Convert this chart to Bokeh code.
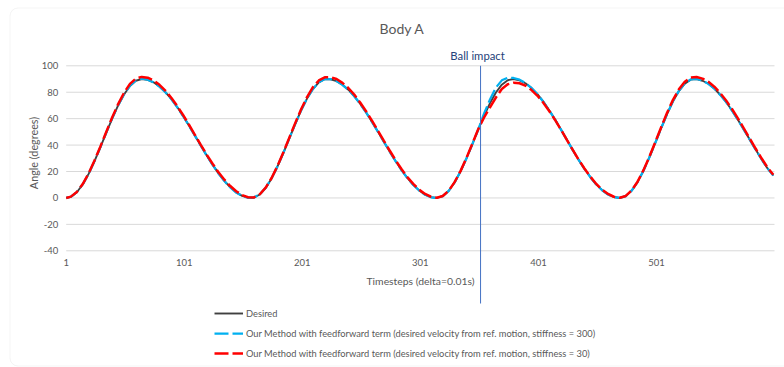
from math import pi
from bokeh.plotting import figure
from bokeh.models import Label, Legend, LegendItem, FixedTicker, Range1d, ColumnDataSource, BoxAnnotation
from bokeh.embed import file_html
from bokeh.resources import INLINE

# ---------------- data ----------------
steps = [1] + [5 * k for k in range(1, 121)]

desired = [
    0.0, 0.9, 4.3, 10.2, 18.2, 27.8, 38.4, 49.4, 60.2, 70.0, 78.3, 84.7, 88.7,
    90.0, 89.4, 87.5, 84.3, 80.1, 74.9, 68.8, 62.1, 54.8, 47.3, 39.7, 32.2, 25.2,
    18.6, 12.9, 8.0, 4.2, 1.6, 0.2,
    0.2, 2.6, 7.6, 14.8, 23.8, 34.1, 45.0, 55.9, 66.2, 75.2, 82.4, 87.4, 89.8,
    89.8, 88.4, 85.7, 81.9, 77.1, 71.3, 64.8, 57.7, 50.3, 42.7, 35.2, 27.9, 21.2,
    15.1, 9.9, 5.7, 2.5, 0.6, 0.0,
    1.4, 5.3, 11.7, 20.0, 29.8, 40.6, 51.6, 62.2, 71.8, 79.8, 85.7, 89.1,
    90.0, 89.0, 86.8, 83.3, 78.7, 73.1, 66.6, 59.5, 52.0, 44.2, 36.5, 29.0, 22.1,
    15.8, 10.3, 5.9, 2.7, 0.7, 0.0,
    1.4, 5.5, 12.0, 20.6, 30.7, 41.6, 52.8, 63.5, 73.1, 80.9, 86.5, 89.5,
    89.9, 88.7, 86.4, 82.8, 78.1, 72.6, 66.2, 59.2, 51.8, 44.2, 36.7, 29.4, 22.5,
    17.0,
]

stiff300 = [
    0.0, 0.9, 4.4, 10.3, 18.3, 27.9, 38.5, 49.5, 60.3, 70.2, 78.5, 84.9, 88.9,
    90.2, 89.5, 87.5, 84.2, 80.0, 74.8, 68.7, 62.0, 54.7, 47.2, 39.6, 32.1, 25.1,
    18.5, 12.8, 7.9, 4.1, 1.5, 0.2,
    0.3, 2.7, 7.7, 14.9, 23.9, 34.2, 45.1, 56.0, 66.3, 75.3, 82.5, 87.6, 90.0,
    89.9, 88.4, 85.6, 81.8, 77.0, 71.2, 64.7, 57.6, 50.2, 42.6, 35.1, 27.8, 21.1,
    15.0, 9.8, 5.6, 2.4, 0.5, 0.0,
    1.4, 5.3, 11.7, 20.0, 29.8, 40.6, 51.6, 64.0, 74.5, 83.5, 89.0, 91.0,
    90.8, 89.5, 87.0, 83.3, 78.6, 73.0, 66.5, 59.4, 51.9, 44.1, 36.4, 28.9, 22.0,
    15.7, 10.2, 5.8, 2.6, 0.6, 0.0,
    1.4, 5.5, 12.0, 20.6, 30.7, 41.6, 52.8, 63.5, 73.2, 81.0, 86.7, 89.7,
    90.1, 88.8, 86.4, 82.8, 78.0, 72.5, 66.1, 59.1, 51.7, 44.1, 36.6, 29.3, 22.4,
    16.9,
]

stiff30 = [
    0.0, 1.0, 4.5, 10.5, 18.6, 28.3, 39.0, 50.1, 61.0, 71.0, 79.6, 86.3, 90.3,
    91.6, 91.0, 89.0, 85.6, 81.2, 75.8, 69.6, 62.8, 55.4, 47.8, 40.2, 32.8, 25.9,
    19.4, 13.8, 9.0, 5.1, 2.2, 0.5,
    0.4, 2.8, 7.8, 15.1, 24.2, 34.6, 45.6, 56.6, 67.1, 76.3, 83.8, 88.9, 91.3,
    91.4, 90.0, 87.1, 83.2, 78.2, 72.2, 65.6, 58.5, 51.0, 43.4, 35.9, 28.6, 21.9,
    15.8, 10.6, 6.3, 3.0, 0.9, 0.1,
    1.5, 5.5, 12.0, 20.3, 30.2, 41.0, 52.0, 61.0, 68.5, 76.0, 82.5, 86.0,
    87.2, 86.8, 85.0, 81.8, 77.5, 72.3, 66.0, 59.2, 51.8, 44.1, 36.5, 29.1, 22.3,
    16.1, 10.6, 6.2, 3.0, 0.9, 0.1,
    1.5, 5.7, 12.3, 21.0, 31.2, 42.2, 53.5, 64.4, 74.2, 82.2, 88.0, 91.1,
    91.5, 90.3, 87.9, 84.2, 79.4, 73.8, 67.3, 60.2, 52.7, 45.0, 37.4, 30.0, 23.1,
    17.6,
]

x_ticks = [1, 101, 201, 301, 401, 501]
y_ticks = [-40, -20, 0, 20, 40, 60, 80, 100]
x_bounds = (1, 601)
impact_step = 352

title_text = "Body A"
y_title = "Angle (degrees)"
x_title = "Timesteps (delta=0.01s)"
impact_text = "Ball impact"
series_names = [
    "Desired",
    "Our Method with feedforward term (desired velocity from ref. motion, stiffness = 300)",
    "Our Method with feedforward term (desired velocity from ref. motion, stiffness = 30)",
]

# ---------------- layout (frame = whole canvas) ----------------
W, H = 784, 367
PX_X = 1.1805       # pixels per timestep
PX_Y = 1.3214       # pixels per degree
LEFT, TOP = 65.7, 65.3  # canvas px of step 1 / 100 deg
x0 = x_bounds[0] - LEFT / PX_X
x1 = x_bounds[0] + (W - LEFT) / PX_X
y1 = y_ticks[-1] + TOP / PX_Y
y0 = y_ticks[-1] - (H - TOP) / PX_Y


def dx(px):
    return x_bounds[0] + (px - LEFT) / PX_X


def dy(py):
    return y_ticks[-1] - (py - TOP) / PX_Y


FONT = "Lato"
GREY = "#595959"

p = figure(width=W, height=H, output_backend="svg", toolbar_location=None,
           x_range=Range1d(x0, x1), y_range=Range1d(y0, y1),
           min_border_left=0, min_border_right=0, min_border_top=0,
           min_border_bottom=0)
p.outline_line_color = None
p.background_fill_color = "white"
p.border_fill_color = "white"
p.grid.visible = False

# outer chart border (rounded)
p.add_layout(BoxAnnotation(left=dx(9.5), right=dx(800), top=dy(7.5), bottom=dy(365.5),
                           fill_color=None, line_color="#D9D9D9", line_width=1,
                           border_radius=8))

# horizontal gridlines, bounded to the category span
p.segment(x0=[x_bounds[0]] * len(y_ticks), x1=[x_bounds[1]] * len(y_ticks),
          y0=y_ticks, y1=y_ticks, line_color="#D9D9D9", line_width=1)

p.yaxis.fixed_location = x_bounds[0]
p.yaxis.bounds = (y_ticks[0], y_ticks[-1])
p.yaxis.ticker = FixedTicker(ticks=y_ticks)
p.yaxis.major_label_overrides = {t: str(t) for t in y_ticks}
p.yaxis.axis_line_color = None
p.yaxis.major_tick_line_color = None
p.yaxis.minor_tick_line_color = None
p.yaxis.major_tick_out = 0
p.yaxis.major_tick_in = 0
p.yaxis.major_label_text_font = FONT
p.yaxis.major_label_text_font_size = "9.5px"
p.yaxis.major_label_text_color = GREY
p.yaxis.major_label_standoff = 8

p.xaxis.fixed_location = y_ticks[0]
p.xaxis.bounds = x_bounds
p.xaxis.ticker = FixedTicker(ticks=x_ticks)
p.xaxis.axis_line_color = None
p.xaxis.major_tick_line_color = None
p.xaxis.minor_tick_line_color = None
p.xaxis.major_tick_out = 0
p.xaxis.major_tick_in = 0
p.xaxis.major_label_text_font = FONT
p.xaxis.major_label_text_font_size = "9.5px"
p.xaxis.major_label_text_color = GREY
p.xaxis.major_label_standoff = 8
p.xaxis.axis_label = x_title
p.xaxis.axis_label_text_font = FONT
p.xaxis.axis_label_text_font_size = "10.4px"
p.xaxis.axis_label_text_font_style = "normal"
p.xaxis.axis_label_text_color = GREY
p.xaxis.axis_label_standoff = 6

# y-axis title
p.add_layout(Label(x=dx(33), y=dy(152.5), text=y_title, angle=pi / 2,
                   text_align="center", text_baseline="middle", text_font=FONT,
                   text_font_size="10.8px", text_color=GREY))

src = ColumnDataSource(dict(x=steps, d=desired, a=stiff300, b=stiff30))
r0 = p.line("x", "d", source=src, line_color="#404040", line_width=1.9)
r1 = p.line("x", "a", source=src, line_color="#00B0F0", line_width=2.25, line_dash="14 4")
r2 = p.line("x", "b", source=src, line_color="#FF0000", line_width=2.5, line_dash="14 4")

# ball impact marker
p.segment(x0=[impact_step], x1=[impact_step], y0=[y_ticks[-1]], y1=[dy(303)],
          line_color="#4472C4", line_width=1)
p.add_layout(Label(x=impact_step, y=dy(55), x_offset=-3, text=impact_text,
                   text_align="center", text_baseline="middle", text_font=FONT,
                   text_font_size="11.3px", text_color="#25427A"))

# title
p.add_layout(Label(x=dx(401.5), y=dy(27.5), text=title_text,
                   text_align="center", text_baseline="middle", text_font=FONT,
                   text_font_size="14px", text_color=GREY))

legend = Legend(items=[LegendItem(label=series_names[0], renderers=[r0]),
                       LegendItem(label=series_names[1], renderers=[r1]),
                       LegendItem(label=series_names[2], renderers=[r2])],
                location=(214, 4), orientation="vertical",
                glyph_width=29, glyph_height=20, label_height=20, spacing=0,
                padding=0, margin=0, border_line_color=None,
                background_fill_alpha=0, label_standoff=3,
                label_text_font=FONT, label_text_font_size="9.3px",
                label_text_color=GREY)
p.add_layout(legend)

open("out.html", "w").write(file_html(p, INLINE))
